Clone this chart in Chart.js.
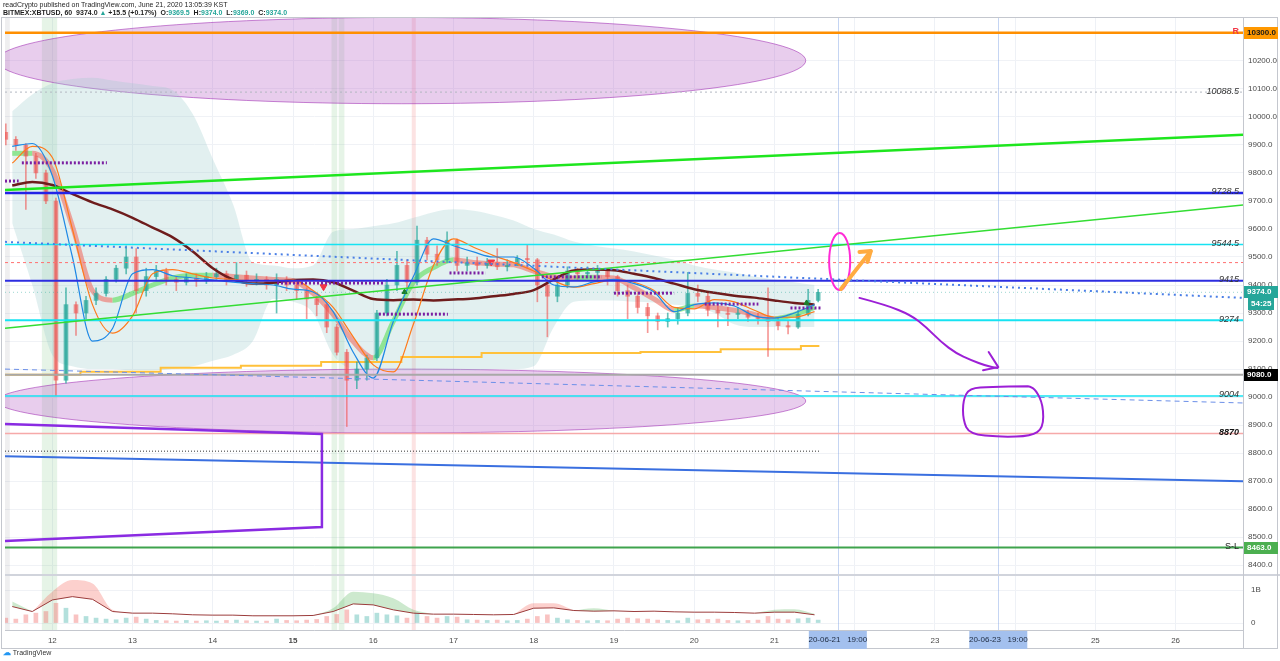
<!DOCTYPE html>
<html>
<head>
<meta charset="utf-8">
<script src="https://cdn.jsdelivr.net/npm/chart.js@4.4.1/dist/chart.umd.min.js"></script>
<style>
  body { margin: 0; background: #fff; font-family: "Liberation Sans", Arial, sans-serif; }
  #wrap { position: relative; width: 1280px; height: 661px; overflow: hidden; }
  canvas { position: absolute; left: 0; top: 0; }
  .hdr { position: absolute; left: 3px; font-size: 7px; line-height: 8px; color: #1e1e1e; white-space: nowrap; }
  .t { color: #26a69a; }
  .logo { position: absolute; left: 3px; top: 648px; font-size: 7px; color: #333; white-space: nowrap; }
  .logo b { color: #2196f3; font-size: 8px; }
</style>
</head>
<body>
<div id="wrap">
  <canvas id="chart" width="1280" height="661"></canvas>
  <div class="hdr" style="top:1px">readCrypto published on TradingView.com, June 21, 2020 13:05:39 KST</div>
  <div class="hdr" style="top:9px;font-weight:bold">BITMEX:XBTUSD, 60&nbsp; 9374.0 <span class="t">▲</span> +15.5 (+0.17%)&nbsp; O:<span class="t">9369.5</span>&nbsp; H:<span class="t">9374.0</span>&nbsp; L:<span class="t">9369.0</span>&nbsp; C:<span class="t">9374.0</span></div>
  <div class="logo"><b>☁</b> TradingView</div>
</div>
<script>
// hourly-ish candles resampled to 3h, starting 11 Jun 10:00 (x in days of June)
const candleStart = 11.42;
const candleStep = 0.125;
const opens = [
  9945, 9920, 9900, 9860, 9800, 9700, 9060, 9330, 9300, 9345,
  9370, 9420, 9460, 9500, 9380, 9430, 9450, 9420, 9410, 9425,
  9415, 9430, 9440, 9420, 9435, 9415, 9420, 9400, 9420, 9400,
  9380, 9350, 9330, 9250, 9160, 9060, 9100, 9140, 9300, 9400,
  9470, 9410, 9560, 9510, 9490, 9560, 9470, 9480, 9470, 9480,
  9465, 9470, 9495, 9490, 9400, 9360, 9400, 9450, 9440, 9445,
  9450, 9430, 9380, 9360, 9320, 9290, 9270, 9280, 9300, 9370,
  9360, 9310, 9300, 9295, 9300, 9285, 9280, 9270, 9255, 9250,
  9295, 9345
];
const highs = [
  9975, 9930, 9905, 9870, 9810, 9710, 9390, 9340, 9360, 9390,
  9430, 9470, 9540, 9530, 9460, 9470, 9460, 9430, 9440, 9440,
  9445, 9460, 9450, 9480, 9450, 9440, 9430, 9440, 9430, 9410,
  9390, 9360, 9340, 9260, 9170, 9125, 9150, 9310, 9420, 9520,
  9490, 9610, 9570, 9540, 9590, 9565, 9500, 9500, 9495, 9530,
  9490, 9505, 9545, 9495, 9420, 9420, 9465, 9460, 9465, 9470,
  9455, 9435, 9400, 9370, 9335, 9300, 9300, 9320, 9445, 9400,
  9370, 9330, 9320, 9320, 9310, 9300, 9390, 9285, 9270, 9310,
  9385, 9385
];
const lows = [
  9900, 9880, 9670, 9780, 9690, 9005, 9050, 9220, 9280, 9330,
  9360, 9410, 9440, 9300, 9360, 9420, 9400, 9380, 9400, 9395,
  9405, 9420, 9400, 9410, 9395, 9400, 9385, 9300, 9380, 9350,
  9280, 9290, 9230, 9150, 8895, 9030, 9060, 9130, 9290, 9380,
  9390, 9400, 9490, 9470, 9480, 9450, 9450, 9455, 9460, 9455,
  9450, 9470, 9460, 9340, 9215, 9340, 9390, 9420, 9425, 9420,
  9400, 9360, 9280, 9300, 9230, 9240, 9250, 9260, 9290, 9340,
  9290, 9250, 9255, 9280, 9270, 9260, 9145, 9240, 9225, 9245,
  9290, 9340
];
const closes = [
  9920, 9900, 9860, 9800, 9700, 9060, 9330, 9300, 9345, 9370,
  9420, 9460, 9500, 9380, 9430, 9450, 9420, 9410, 9425, 9415,
  9430, 9440, 9420, 9435, 9415, 9420, 9400, 9420, 9400, 9380,
  9350, 9330, 9250, 9160, 9060, 9100, 9140, 9300, 9400, 9470,
  9410, 9560, 9510, 9490, 9560, 9470, 9480, 9470, 9480, 9465,
  9470, 9495, 9490, 9400, 9360, 9400, 9450, 9440, 9445, 9450,
  9430, 9380, 9360, 9320, 9290, 9270, 9280, 9300, 9370, 9360,
  9310, 9300, 9295, 9300, 9285, 9280, 9270, 9255, 9250, 9295,
  9345, 9374
];
// volume in millions USD
const volumes = [
  150, 120, 250, 300, 350, 600, 450, 250, 200, 150,
  120, 100, 150, 180, 120, 80, 70, 60, 80, 60,
  70, 60, 80, 90, 70, 60, 60, 120, 80, 70,
  90, 110, 200, 260, 400, 250, 200, 300, 250, 220,
  150, 300, 200, 150, 200, 180, 100, 90, 80, 90,
  70, 80, 120, 200, 250, 150, 100, 80, 70, 80,
  70, 120, 150, 130, 120, 90, 80, 70, 150, 100,
  110, 120, 80, 70, 80, 90, 200, 120, 100, 130,
  150, 90
];

// indicator samples every 6h from 11 Jun 12:00
const indStart = 11.5;
const indStep = 0.25;
const maLong = [9755, 9768, 9757, 9725, 9695, 9670, 9640, 9605, 9570, 9520, 9460, 9420, 9405, 9408, 9418, 9420, 9410, 9380, 9350, 9346, 9348, 9345, 9348, 9352, 9360, 9368, 9382, 9420, 9452, 9455, 9453, 9440, 9425, 9405, 9385, 9372, 9362, 9355, 9345, 9336, 9330];
const fastLine = [9895, 9905, 9790, 9500, 9200, 9245, 9440, 9455, 9433, 9425, 9418, 9410, 9405, 9400, 9385, 9375, 9305, 9160, 9068, 9270, 9430, 9565, 9540, 9518, 9500, 9500, 9460, 9400, 9393, 9411, 9420, 9405, 9375, 9305, 9330, 9336, 9325, 9290, 9282, 9300, 9330];
const slowLine = [9835, 9895, 9855, 9600, 9330, 9228, 9290, 9440, 9455, 9440, 9425, 9420, 9415, 9415, 9418, 9380, 9320, 9215, 9115, 9090, 9260, 9470, 9565, 9535, 9505, 9480, 9450, 9415, 9392, 9405, 9418, 9410, 9380, 9320, 9315, 9348, 9340, 9310, 9285, 9285, 9305];
const emaBand = [9870, 9870, 9810, 9610, 9380, 9346, 9370, 9400, 9425, 9435, 9435, 9430, 9425, 9420, 9415, 9370, 9295, 9198, 9140, 9270, 9410, 9462, 9490, 9480, 9475, 9472, 9450, 9430, 9425, 9428, 9425, 9390, 9350, 9310, 9325, 9320, 9310, 9295, 9280, 9295, 9320];
const cloudUpper = [10020, 10080, 10120, 10135, 10140, 10130, 10120, 10110, 10095, 10010, 9850, 9690, 9480, 9470, 9460, 9470, 9590, 9600, 9610, 9620, 9640, 9660, 9670, 9665, 9650, 9630, 9600, 9580, 9555, 9540, 9530, 9520, 9505, 9490, 9470, 9455, 9445, 9430, 9420, 9410, 9400];
const cloudLower = [9620, 9400, 9150, 9110, 9100, 9100, 9095, 9095, 9100, 9110, 9130, 9150, 9200, 9350, 9340, 9300, 9150, 9100, 9095, 9095, 9095, 9095, 9095, 9095, 9100, 9100, 9110, 9250, 9340, 9345, 9345, 9340, 9338, 9330, 9325, 9300, 9260, 9250, 9250, 9250, 9250];
// lower panel oscillator (billions) and its shaded bands
const oscLine = [0.50, 0.35, 0.70, 0.80, 0.72, 0.35, 0.30, 0.30, 0.28, 0.25, 0.24, 0.24, 0.22, 0.22, 0.22, 0.23, 0.35, 0.58, 0.55, 0.40, 0.30, 0.27, 0.27, 0.26, 0.25, 0.26, 0.45, 0.46, 0.38, 0.36, 0.37, 0.35, 0.36, 0.34, 0.33, 0.33, 0.32, 0.30, 0.33, 0.33, 0.25];
const oscRed = [null, 0.35, 0.95, 1.30, 1.20, 0.40, 0.30, null, null, null, null, null, null, null, null, null, null, null, null, null, null, null, null, null, null, 0.26, 0.60, 0.60, 0.38, null, null, null, null, null, null, null, null, null, null, null, null];
const oscGreen = [0.65, 0.35, null, null, null, null, null, null, null, null, null, null, null, null, null, 0.23, 0.45, 0.95, 0.90, 0.75, 0.40, 0.27, null, null, null, null, null, null, 0.38, 0.45, 0.37, null, null, null, null, null, null, 0.30, 0.40, 0.42, 0.28];

// trailing stop (yellow step line)
const stopDays = [11.41, 12.35, 13.35, 14.35, 15.35, 16.35, 17.35, 19.33, 20.33, 21.33, 21.56];
const stopValues = [9080, 9090, 9105, 9112, 9125, 9143, 9157, 9161, 9171, 9182, 9182];

// signal markers [day, price]
const sellSignals = [[15.38, 9394], [17.47, 9482]];
const buySignals = [[16.39, 9375], [21.40, 9336]];

// axis ticks
const dayTicks = [12, 13, 14, 15, 16, 17, 18, 19, 20, 21, 22, 23, 24, 25, 26];
const priceTicks = [8400, 8500, 8600, 8700, 8800, 8900, 9000, 9100, 9200, 9300, 9400, 9500, 9600, 9700, 9800, 9900, 10000, 10100, 10200, 10300];
const volTicks = [0, 1e9];
const timeMarks = [21.79, 23.79];
const timeMarkLabels = ['20-06-21   19:00', '20-06-23   19:00'];

// drawings (day, price)
const levelPrices = [10300, 10088.5, 9728.5, 9544.5, 9480, 9415, 9374, 9274, 9080, 9004, 8870, 8463];
const levelTags = ['R', '10088.5', '9728.5', '9544.5', '', '9415', '', '9274', '', '9004', '8870', 'S-L'];
const trendLines = [
  [11.41, 9739, 26.84, 9936],
  [11.41, 9246, 26.84, 9686],
  [11.41, 9554, 26.84, 9354],
  [11.41, 9100, 26.84, 8979],
  [11.41, 8789, 26.84, 8700],
  [11.41, 8807, 21.56, 8807]
];
const boxPath = [[11.41, 8904], [15.36, 8868], [15.36, 8536], [11.41, 8486]];
const zoneSegs = [[11.62, 12.68, 9836], [11.41, 11.58, 9771], [14.80, 16.15, 9407], [16.07, 16.93, 9296], [16.95, 17.40, 9443], [18.10, 18.85, 9429], [19.00, 19.75, 9371], [20.13, 20.80, 9332], [21.20, 21.58, 9318]];
const ellipses = [[16.35, 10201, 5.04, 154], [16.35, 8986, 5.04, 114]];
const vBands = [[11.41, 11.47], [11.87, 12.06], [15.48, 15.55], [15.57, 15.64], [16.48, 16.53]];
const arrowCurve = [[22.06, 9354], [22.39, 9329], [22.70, 9293], [22.89, 9250], [23.08, 9196], [23.26, 9157], [23.45, 9132], [23.64, 9111], [23.78, 9104]];
const arrowHead = [[23.67, 9161], [23.79, 9107], [23.60, 9096]];
const loopPath = [[24.14, 9039], [23.70, 9036], [23.43, 9032], [23.35, 8989], [23.35, 8918], [23.43, 8868], [23.82, 8857], [24.20, 8861], [24.35, 8889], [24.35, 8971], [24.26, 9025], [24.18, 9039]];
const orangeArrow = [[21.83, 9386], [22.20, 9521]];
const orangeHead = [[22.06, 9518], [22.20, 9521], [22.16, 9482]];
const magentaOval = [21.813, 9484, 0.131, 102];

const FONT = '"Liberation Sans", Arial, sans-serif';
const UP = 'rgba(38,166,154,0.7)';
const DOWN = 'rgba(239,83,80,0.6)';

const candleDays = closes.map((_, i) => candleStart + i * candleStep);
const indDays = maLong.map((_, i) => indStart + i * indStep);
const pts = arr => arr.map((v, i) => ({ x: indDays[i], y: v }));
const candleColor = c => closes[c.dataIndex] >= opens[c.dataIndex] ? UP : DOWN;

const levelStyle = [
  { c: '#ff8f00', w: 2.5 }, { c: '#b3b8c2', w: 1, dash: [2, 3] }, { c: '#2323e6', w: 2.5 },
  { c: '#16e3f2', w: 1.5 }, { c: '#ff7070', w: 1, dash: [3, 3] }, { c: '#2d2de0', w: 2 },
  { c: 'rgba(38,166,154,0.45)', w: 1, dash: [1, 3] }, { c: '#16e3f2', w: 2 }, { c: '#a8a8a8', w: 2 },
  { c: '#16e3f2', w: 1.5 }, { c: '#f6a9a9', w: 1.5 }, { c: '#3fa34d', w: 2 }
];
const trendStyle = [
  { c: '#1ee61e', w: 2.5 }, { c: '#33dd33', w: 1.5 }, { c: '#4a7fe6', w: 2, dash: [2, 4] },
  { c: '#6b8fe8', w: 1, dash: [5, 4] }, { c: '#3a6fe0', w: 2 }, { c: '#333', w: 1, dash: [1, 2] }
];

function smoothPath(ctx, p, closed) {
  const mid = (a, b) => [(a[0] + b[0]) / 2, (a[1] + b[1]) / 2];
  ctx.beginPath();
  if (closed) {
    const s = mid(p[p.length - 1], p[0]);
    ctx.moveTo(s[0], s[1]);
    for (let i = 0; i < p.length; i++) {
      const m = mid(p[i], p[(i + 1) % p.length]);
      ctx.quadraticCurveTo(p[i][0], p[i][1], m[0], m[1]);
    }
    ctx.closePath();
  } else {
    ctx.moveTo(p[0][0], p[0][1]);
    for (let i = 1; i < p.length - 1; i++) {
      const m = mid(p[i], p[i + 1]);
      ctx.quadraticCurveTo(p[i][0], p[i][1], m[0], m[1]);
    }
    ctx.lineTo(p[p.length - 1][0], p[p.length - 1][1]);
  }
}

const overlay = {
  id: 'overlay',
  beforeDatasetsDraw(chart) {
    const { ctx, chartArea: a, scales: { x, y } } = chart;
    const X = d => x.getPixelForValue(d);
    const Y = p => y.getPixelForValue(p);
    ctx.save();
    vBands.forEach((b, i) => {
      ctx.fillStyle = i === 0 ? 'rgba(120,120,130,0.12)' : (i === 4 ? 'rgba(239,83,80,0.16)' : 'rgba(102,187,106,0.16)');
      ctx.fillRect(X(b[0]), a.top, X(b[1]) - X(b[0]), a.bottom - a.top);
    });
    ctx.strokeStyle = 'rgba(110,150,225,0.4)';
    ctx.lineWidth = 1;
    timeMarks.forEach(d => {
      ctx.beginPath(); ctx.moveTo(Math.round(X(d)) + 0.5, a.top); ctx.lineTo(Math.round(X(d)) + 0.5, a.bottom); ctx.stroke();
    });
    ctx.beginPath();
    ctx.rect(a.left, y.top, a.right - a.left, y.bottom - y.top);
    ctx.clip();
    ellipses.forEach(e => {
      const cx = X(e[0]), cy = Y(e[1]);
      const rx = X(e[0] + e[2]) - cx, ry = cy - Y(e[1] + e[3]);
      ctx.beginPath();
      ctx.ellipse(cx, cy, rx, ry, 0, 0, Math.PI * 2);
      ctx.fillStyle = 'rgba(186,104,200,0.33)';
      ctx.fill();
      ctx.strokeStyle = 'rgba(156,39,176,0.55)';
      ctx.lineWidth = 1;
      ctx.stroke();
    });
    ctx.restore();
  },
  afterDatasetsDraw(chart) {
    const { ctx, chartArea: a, scales: { x, y } } = chart;
    const X = d => x.getPixelForValue(d);
    const Y = p => y.getPixelForValue(p);
    ctx.save();
    ctx.beginPath();
    ctx.rect(a.left, y.top, a.right - a.left, y.bottom - y.top);
    ctx.clip();
    // horizontal levels
    levelPrices.forEach((p, i) => {
      const s = levelStyle[i];
      ctx.strokeStyle = s.c; ctx.lineWidth = s.w; ctx.setLineDash(s.dash || []);
      ctx.beginPath(); ctx.moveTo(a.left, Y(p)); ctx.lineTo(a.right, Y(p)); ctx.stroke();
    });
    // trend lines
    trendLines.forEach((t, i) => {
      const s = trendStyle[i];
      ctx.strokeStyle = s.c; ctx.lineWidth = s.w; ctx.setLineDash(s.dash || []);
      ctx.beginPath(); ctx.moveTo(X(t[0]), Y(t[1])); ctx.lineTo(X(t[2]), Y(t[3])); ctx.stroke();
    });
    ctx.setLineDash([]);
    // purple box path
    ctx.strokeStyle = '#8a2be2'; ctx.lineWidth = 2.5;
    ctx.beginPath();
    boxPath.forEach((q, i) => i ? ctx.lineTo(X(q[0]), Y(q[1])) : ctx.moveTo(X(q[0]), Y(q[1])));
    ctx.stroke();
    // purple dotted zones
    ctx.strokeStyle = '#7b1fa2'; ctx.lineWidth = 3; ctx.setLineDash([2, 2]);
    zoneSegs.forEach(z => { ctx.beginPath(); ctx.moveTo(X(z[0]), Y(z[2])); ctx.lineTo(X(z[1]), Y(z[2])); ctx.stroke(); });
    ctx.setLineDash([]);
    // hand drawings
    ctx.lineCap = 'round'; ctx.lineJoin = 'round';
    ctx.strokeStyle = '#9c1fd6'; ctx.lineWidth = 2;
    smoothPath(ctx, arrowCurve.map(q => [X(q[0]), Y(q[1])]), false); ctx.stroke();
    ctx.beginPath(); arrowHead.forEach((q, i) => i ? ctx.lineTo(X(q[0]), Y(q[1])) : ctx.moveTo(X(q[0]), Y(q[1]))); ctx.stroke();
    smoothPath(ctx, loopPath.map(q => [X(q[0]), Y(q[1])]), true); ctx.stroke();
    ctx.strokeStyle = '#ff2bd6';
    const ox = X(magentaOval[0]), oy = Y(magentaOval[1]);
    ctx.beginPath();
    ctx.ellipse(ox, oy, X(magentaOval[0] + magentaOval[2]) - ox, oy - Y(magentaOval[1] + magentaOval[3]), 0, 0, Math.PI * 2);
    ctx.stroke();
    ctx.strokeStyle = '#ffab40'; ctx.lineWidth = 4;
    ctx.beginPath(); ctx.moveTo(X(orangeArrow[0][0]), Y(orangeArrow[0][1])); ctx.lineTo(X(orangeArrow[1][0]), Y(orangeArrow[1][1])); ctx.stroke();
    ctx.beginPath(); orangeHead.forEach((q, i) => i ? ctx.lineTo(X(q[0]), Y(q[1])) : ctx.moveTo(X(q[0]), Y(q[1]))); ctx.stroke();
    // level labels
    ctx.textAlign = 'right'; ctx.textBaseline = 'middle';
    levelPrices.forEach((p, i) => {
      const tag = levelTags[i];
      if (!tag) return;
      if (tag === 'R') { ctx.fillStyle = '#f23645'; ctx.font = 'bold 9px ' + FONT; }
      else if (tag === 'S-L') { ctx.fillStyle = '#222'; ctx.font = '9px ' + FONT; }
      else if (tag === '8870') { ctx.fillStyle = '#111'; ctx.font = 'italic bold 9px ' + FONT; }
      else { ctx.fillStyle = '#333'; ctx.font = 'italic 9px ' + FONT; }
      ctx.fillText(tag, a.right - 4, Y(p) - 1);
    });
    ctx.restore();
  },
  afterDraw(chart) {
    const { ctx, chartArea: a, scales: { x, y } } = chart;
    const Y = p => y.getPixelForValue(p);
    ctx.save();
    // panel separator and frame
    ctx.fillStyle = '#d1d4dc';
    ctx.fillRect(a.left, y.bottom - 1, 1280 - a.left, 2);
    ctx.strokeStyle = '#c4c7ce'; ctx.lineWidth = 1;
    ctx.strokeRect(1.5, 17.5, 1276, 631);
    ctx.beginPath(); ctx.moveTo(a.right + 0.5, 17); ctx.lineTo(a.right + 0.5, 649); ctx.stroke();
    // price axis tags
    const tag = (p, text, bg, fg) => {
      const yy = Math.round(Y(p));
      ctx.fillStyle = bg; ctx.fillRect(a.right + 1, yy - 6, 34, 12);
      ctx.fillStyle = fg; ctx.font = 'bold 8px ' + FONT; ctx.textAlign = 'left'; ctx.textBaseline = 'middle';
      ctx.fillText(text, a.right + 4, yy);
    };
    tag(10300, '10300.0', '#ff9800', '#1a1a1a');
    tag(9080, '9080.0', '#000', '#fff');
    tag(8463, '8463.0', '#4caf50', '#fff');
    tag(9374, '9374.0', '#26a69a', '#fff');
    const ty = Math.round(Y(9374)) + 12;
    ctx.fillStyle = '#26a69a'; ctx.fillRect(a.right + 5, ty - 6, 26, 12);
    ctx.fillStyle = '#fff'; ctx.fillText('54:25', a.right + 8, ty);
    // time axis tags
    ctx.font = '8px ' + FONT; ctx.textAlign = 'center';
    timeMarks.forEach((d, i) => {
      const xx = x.getPixelForValue(d);
      ctx.fillStyle = '#a3c0ee'; ctx.fillRect(xx - 29, a.bottom + 1, 58, 18);
      ctx.fillStyle = '#1d2a40'; ctx.fillText(timeMarkLabels[i], xx, a.bottom + 10);
    });
    ctx.restore();
  }
};

new Chart(document.getElementById('chart'), {
  type: 'bar',
  data: {
    datasets: [
      { type: 'line', data: pts(cloudUpper), yAxisID: 'y', borderWidth: 0, pointRadius: 0, fill: '+1', backgroundColor: 'rgba(150,200,200,0.28)', cubicInterpolationMode: 'monotone', order: 30 },
      { type: 'line', data: pts(cloudLower), yAxisID: 'y', borderWidth: 0, pointRadius: 0, fill: false, cubicInterpolationMode: 'monotone', order: 30 },
      { type: 'line', data: stopDays.map((d, i) => ({ x: d, y: stopValues[i] })), yAxisID: 'y', stepped: true, borderColor: '#ffc13b', borderWidth: 2, pointRadius: 0, order: 20 },
      { type: 'line', data: pts(emaBand), yAxisID: 'y', borderWidth: 5, pointRadius: 0, cubicInterpolationMode: 'monotone', order: 18,
        segment: { borderColor: c => c.p1.parsed.y >= c.p0.parsed.y ? 'rgba(110,225,110,0.7)' : 'rgba(240,110,100,0.6)' } },
      { data: candleDays.map((d, i) => ({ x: d, y: [lows[i], highs[i]] })), yAxisID: 'y', barThickness: 1, grouped: false, backgroundColor: candleColor, order: 15 },
      { data: candleDays.map((d, i) => ({ x: d, y: [opens[i], closes[i]] })), yAxisID: 'y', barThickness: 4, grouped: false, minBarLength: 1, backgroundColor: candleColor, order: 14 },
      { type: 'line', data: pts(maLong), yAxisID: 'y', borderColor: '#6e1c1c', borderWidth: 2.5, pointRadius: 0, cubicInterpolationMode: 'monotone', order: 8 },
      { type: 'line', data: pts(slowLine), yAxisID: 'y', borderColor: '#ff7a1a', borderWidth: 1.2, pointRadius: 0, cubicInterpolationMode: 'monotone', order: 7 },
      { type: 'line', data: pts(fastLine), yAxisID: 'y', borderColor: '#1e88e5', borderWidth: 1.2, pointRadius: 0, cubicInterpolationMode: 'monotone', order: 6 },
      { data: candleDays.map((d, i) => ({ x: d, y: volumes[i] * 1e6 })), yAxisID: 'yv', barThickness: 4, grouped: false,
        backgroundColor: c => closes[c.dataIndex] >= opens[c.dataIndex] ? 'rgba(38,166,154,0.35)' : 'rgba(239,83,80,0.35)', order: 25 },
      { type: 'line', data: pts(oscLine.map(v => v * 1e9)), yAxisID: 'yv', borderColor: '#9b3b3b', borderWidth: 1, pointRadius: 0, order: 5 },
      { type: 'line', data: pts(oscRed.map(v => v === null ? null : v * 1e9)), yAxisID: 'yv', borderWidth: 0, pointRadius: 0, fill: 10, backgroundColor: 'rgba(244,67,54,0.25)', cubicInterpolationMode: 'monotone', order: 22 },
      { type: 'line', data: pts(oscGreen.map(v => v === null ? null : v * 1e9)), yAxisID: 'yv', borderWidth: 0, pointRadius: 0, fill: 10, backgroundColor: 'rgba(76,175,80,0.28)', cubicInterpolationMode: 'monotone', order: 22 },
      { type: 'line', showLine: false, data: sellSignals.map(s => ({ x: s[0], y: s[1] })), yAxisID: 'y', pointStyle: 'triangle', rotation: 180, pointRadius: 4, backgroundColor: '#f23645', borderColor: '#f23645', order: 1 },
      { type: 'line', showLine: false, data: buySignals.map(s => ({ x: s[0], y: s[1] })), yAxisID: 'y', pointStyle: 'triangle', pointRadius: 3, backgroundColor: '#1b7f2a', borderColor: '#1b7f2a', order: 1 }
    ]
  },
  options: {
    responsive: false,
    animation: false,
    events: [],
    layout: { padding: { left: 3, top: 18, right: 0, bottom: 12 } },
    plugins: { legend: { display: false }, tooltip: { enabled: false } },
    scales: {
      x: {
        type: 'linear', min: 11.41, max: 26.84, offset: false,
        afterBuildTicks: s => { s.ticks = dayTicks.map(v => ({ value: v })); },
        afterFit: s => { s.height = 19; },
        grid: { color: '#eef1f6', offset: false, drawTicks: false },
        border: { color: '#c4c7ce' },
        ticks: {
          autoSkip: false, maxRotation: 0, padding: 6, color: '#4a4a4a',
          font: c => ({ family: FONT, size: 8, weight: c.tick && c.tick.value === 15 ? 'bold' : 'normal' }),
          callback: v => (v === 22 || v === 24) ? '' : String(v)
        }
      },
      y: {
        type: 'linear', position: 'right', stack: 'main', stackWeight: 557,
        min: 8365, max: 10353,
        afterBuildTicks: s => { s.ticks = priceTicks.map(v => ({ value: v })); },
        afterFit: s => { s.width = 37; },
        grid: { color: '#f0f2f6', drawTicks: false },
        border: { display: false },
        ticks: { padding: 5, color: '#4a4a4a', font: { family: FONT, size: 8 }, callback: v => v.toFixed(1) }
      },
      yv: {
        type: 'linear', position: 'right', stack: 'main', stackWeight: 55,
        min: -0.21e9, max: 1.455e9,
        afterBuildTicks: s => { s.ticks = volTicks.map(v => ({ value: v })); },
        afterFit: s => { s.width = 37; },
        grid: { color: '#f0f2f6', drawTicks: false },
        border: { display: false },
        ticks: { padding: 8, color: '#4a4a4a', font: { family: FONT, size: 8 }, callback: v => v === 0 ? '0' : '1B' }
      }
    }
  },
  plugins: [overlay]
});
</script>
</body>
</html>
